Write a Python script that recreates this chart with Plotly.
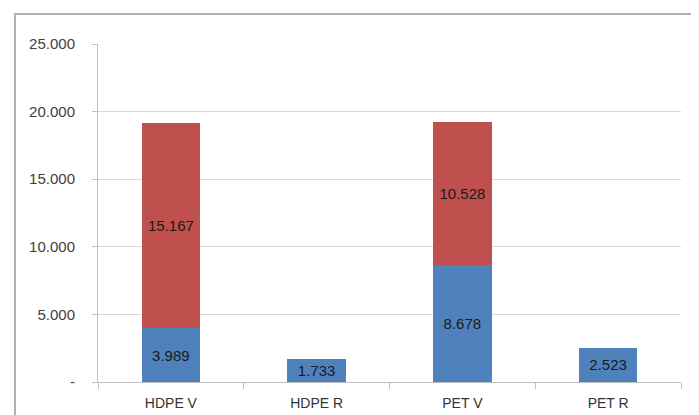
import plotly.graph_objects as go

categories = ["HDPE V", "HDPE R", "PET V", "PET R"]
blue_values = [3989, 1733, 8678, 2523]
red_values = [15167, None, 10528, None]
tick_vals = [0, 5000, 10000, 15000, 20000, 25000]
tick_text = ["-", "5.000", "10.000", "15.000", "20.000", "25.000"]

FONT = "Liberation Sans Narrow, Liberation Sans, Arial, sans-serif"

fig = go.Figure()
fig.add_trace(go.Bar(
    x=categories, y=blue_values, marker=dict(color="#4F81BD", line=dict(width=0)),
    texttemplate="%{y:,d}", textposition="inside", insidetextanchor="middle",
    textfont=dict(family=FONT, size=15, color="#1a1a1a"), showlegend=False,
))
fig.add_trace(go.Bar(
    x=categories, y=red_values, marker=dict(color="#C0504D", line=dict(width=0)),
    texttemplate="%{y:,d}", textposition="inside", insidetextanchor="middle",
    textfont=dict(family=FONT, size=15, color="#1a1a1a"), showlegend=False,
))

OFF = 7  # page offset
L, R, T, B = 97 - OFF, 19 + OFF, 43 - OFF, 34 + OFF
W, H = 699, 415
pw, ph = W - L - R, H - T - B

fig.update_layout(
    width=W, height=H, barmode="stack", bargap=0.6,
    separators=",.",
    margin=dict(l=L, r=R, t=T, b=B, pad=0),
    paper_bgcolor="white", plot_bgcolor="white",
    font=dict(family=FONT, size=14, color="#404040"),
    uniformtext=dict(minsize=14, mode="show"),
    shapes=[dict(
        type="rect", xref="paper", yref="paper",
        x0=(14 - OFF - L) / pw, x1=(W + 20 - L) / pw,
        y0=-(B + 20) / ph, y1=1 + (T - (13 - OFF)) / ph,
        line=dict(color="#b0b0b0", width=2), fillcolor="rgba(0,0,0,0)", layer="below",
    )],
)
fig.update_xaxes(
    showline=True, linecolor="#bfbfbf", linewidth=1,
    ticks="outside", ticklen=6, tickcolor="#bfbfbf", tickson="boundaries",
    ticklabelstandoff=8,
    showgrid=False, tickfont=dict(family=FONT, size=14, color="#333333"),
)
fig.update_yaxes(
    range=[0, 25000], tickvals=tick_vals, ticktext=tick_text,
    showline=True, linecolor="#bfbfbf", linewidth=1,
    ticks="outside", ticklen=5, tickcolor="#bfbfbf",
    showgrid=True, gridcolor="#d9d9d9", gridwidth=1, zeroline=False,
    ticklabelstandoff=14, tickfont=dict(family=FONT, size=15, color="#404040"),
)

fig.write_html("out.html")
